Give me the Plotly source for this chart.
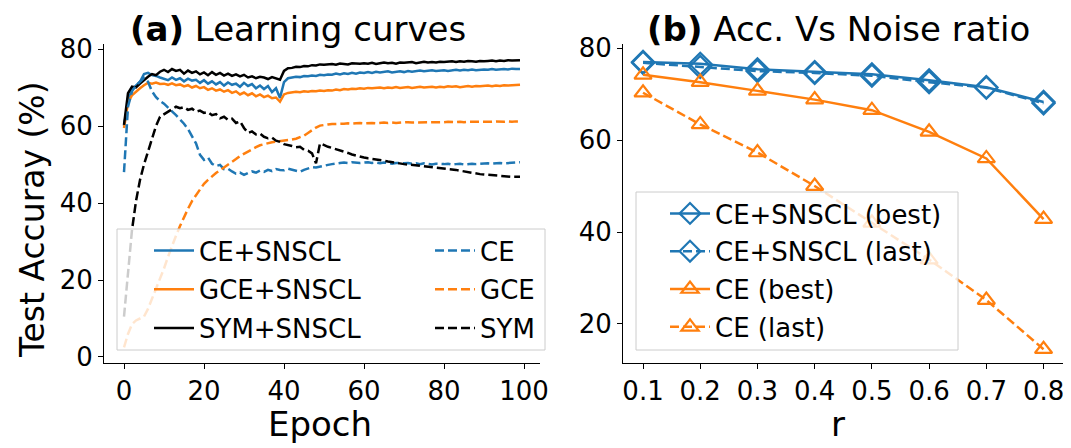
import plotly.graph_objects as go

epochs = list(range(100))

sym_snscl = [60.3, 68.5, 70.2, 70.0, 71.0, 72.0, 72.8, 73.5, 73.2, 74.1,
             74.6, 74.0, 74.8, 74.3, 74.6, 73.6, 74.4, 73.8, 74.2, 73.4,
             73.9, 73.2, 74.0, 73.3, 73.8, 73.1, 73.6, 73.0, 73.4, 72.9,
             73.3, 72.6, 72.9, 72.4, 72.8, 72.6, 72.2, 72.7, 72.3, 72.0,
             74.3, 75.0, 75.1, 75.4, 75.3, 75.6, 75.5, 75.8, 75.7, 76.0,
             75.9, 76.0, 76.1, 75.9, 76.2, 76.1, 76.0, 76.3, 76.2, 76.2,
             76.3, 76.2, 76.4, 76.1, 76.3, 76.5, 76.3, 76.4, 76.2, 76.5,
             76.4, 76.5, 76.6, 76.3, 76.5, 76.7, 76.5, 76.6, 76.5, 76.7,
             76.6, 76.7, 76.8, 76.6, 76.8, 76.7, 76.9, 76.8, 76.7, 76.9,
             76.8, 76.9, 77.0, 76.8, 77.0, 76.9, 77.1, 77.0, 77.1, 77.1]

ce_snscl = [60.0, 66.5, 69.5, 70.5, 71.5, 73.5, 73.8, 73.2, 73.0, 72.6,
            72.3, 71.9, 72.6, 72.0, 72.4, 71.6, 72.3, 71.8, 72.0, 71.2,
            71.9, 71.0, 71.6, 70.8, 71.4, 70.5, 71.3, 70.7, 71.0, 70.2,
            71.2, 70.4, 70.9, 69.8, 70.5, 69.6, 70.4, 68.8, 69.8, 67.3,
            71.4, 72.4, 72.6, 72.8, 72.7, 73.0, 72.9, 73.1, 73.0, 73.3,
            73.2, 73.4, 73.3, 73.6, 73.4, 73.7, 73.5, 73.8, 73.6, 73.9,
            73.8, 74.0, 73.8, 74.1, 73.9, 74.0, 74.2, 73.9, 74.1, 74.2,
            74.0, 74.3, 74.1, 74.2, 74.4, 74.2, 74.3, 74.5, 74.3, 74.4,
            74.5, 74.3, 74.5, 74.6, 74.4, 74.6, 74.5, 74.7, 74.5, 74.6,
            74.7, 74.6, 74.8, 74.6, 74.7, 74.8, 74.7, 74.9, 74.8, 74.8]

gce_snscl = [59.5, 66.0, 68.0, 69.0, 69.8, 70.6, 71.2, 71.0, 71.3, 70.9,
             71.0, 70.7, 71.1, 70.6, 70.8, 70.3, 70.6, 70.0, 70.4, 69.8,
             70.1, 69.4, 69.8, 69.2, 69.5, 68.9, 69.3, 68.6, 69.0, 68.2,
             68.7, 68.0, 68.5, 67.7, 68.2, 67.5, 67.9, 67.2, 67.4, 66.3,
             68.2, 68.6, 68.7, 68.9, 68.8, 69.0, 68.9, 69.1, 69.0, 69.2,
             69.1, 69.3, 69.2, 69.5, 69.3, 69.6, 69.5, 69.7, 69.6, 69.8,
             69.7, 69.9, 69.8, 69.9, 70.0, 69.8, 70.0, 69.9, 70.1, 69.9,
             70.0, 70.1, 69.9, 70.1, 70.2, 70.0, 70.1, 70.2, 70.0, 70.2,
             70.1, 70.3, 70.2, 70.3, 70.1, 70.3, 70.4, 70.2, 70.4, 70.3,
             70.4, 70.5, 70.3, 70.5, 70.4, 70.6, 70.5, 70.6, 70.7, 70.7]

ce = [48.0, 65.0, 69.0, 70.5, 71.5, 72.5, 71.5, 69.0, 67.5, 66.5,
      65.8, 64.9, 63.8, 62.8, 61.8, 60.6, 59.2, 57.5, 55.5, 52.5,
      51.2, 51.8, 50.2, 49.6, 49.9, 48.8, 48.9, 48.2, 47.6, 47.9,
      47.3, 47.8, 48.2, 47.9, 48.4, 48.1, 48.6, 48.3, 48.8, 48.6,
      48.5, 48.9, 48.6, 48.4, 48.1, 48.6, 49.0, 49.3, 49.2, 49.5,
      49.6, 49.9, 50.1, 50.3, 50.4, 50.5, 50.4, 50.6, 50.5, 50.4,
      50.5, 50.6, 50.4, 50.5, 50.3, 50.5, 50.4, 50.2, 50.4, 50.3,
      50.3, 50.4, 50.2, 50.3, 50.1, 50.3, 50.2, 50.0, 50.2, 50.1,
      50.1, 50.2, 50.0, 50.1, 50.2, 50.0, 50.1, 50.2, 50.1, 50.2,
      50.2, 50.3, 50.2, 50.3, 50.4, 50.3, 50.4, 50.5, 50.5, 50.6]

gce = [2.5, 6.0, 8.5, 9.5, 10.0, 10.5, 12.5, 15.0, 18.0, 20.5,
       23.0, 26.0, 29.0, 31.5, 34.0, 36.5, 38.5, 40.5, 42.0, 43.5,
       45.0, 46.0, 47.0, 47.8, 48.5, 49.2, 49.8, 50.6, 51.4, 52.2,
       52.8, 53.5, 54.0, 54.5, 55.0, 55.3, 55.6, 55.8, 55.9, 56.0,
       56.2, 56.3, 56.5, 56.7, 57.0, 57.5, 58.2, 59.0, 59.6, 60.1,
       60.3, 60.4, 60.5, 60.5, 60.6, 60.6, 60.7, 60.6, 60.7, 60.8,
       60.7, 60.8, 60.8, 60.7, 60.8, 60.9, 60.8, 60.9, 60.8, 60.9,
       60.9, 61.0, 60.9, 60.9, 61.0, 60.9, 61.0, 61.0, 60.9, 61.0,
       61.0, 61.1, 61.0, 61.0, 61.1, 61.0, 61.1, 61.1, 61.0, 61.1,
       61.1, 61.0, 61.1, 61.2, 61.1, 61.1, 61.2, 61.1, 61.2, 61.2]

sym = [10.5, 22.0, 33.0, 40.5, 46.0, 50.0, 53.5, 57.0, 60.0, 62.4,
       63.0, 63.7, 64.2, 65.0, 64.6, 64.9, 64.2, 64.5, 63.7, 64.0,
       63.4, 63.6, 62.8, 63.1, 62.0, 62.4, 61.6, 61.9, 60.8, 61.2,
       59.5, 58.2, 58.6, 57.8, 58.0, 57.2, 56.8, 57.0, 56.2, 55.9,
       55.3, 55.1, 54.8, 54.5, 54.6, 53.8, 53.6, 52.9, 50.3, 55.5,
       55.0, 54.6, 54.3, 54.0, 53.6, 53.3, 53.0, 52.6, 52.3, 52.0,
       51.8, 51.6, 51.5, 51.3, 51.2, 51.0, 50.8, 50.6, 50.4, 50.2,
       50.1, 50.0, 49.9, 49.8, 49.6, 49.5, 49.4, 49.3, 49.2, 49.0,
       49.0, 48.8, 48.7, 48.6, 48.4, 48.2, 48.0, 47.8, 47.7, 47.5,
       47.4, 47.3, 47.2, 47.1, 47.0, 46.9, 46.9, 46.8, 46.8, 46.8]

noise_ratio = [0.1, 0.2, 0.3, 0.4, 0.5, 0.6, 0.7, 0.8]
noise_labels = ["0.1", "0.2", "0.3", "0.4", "0.5", "0.6", "0.7", "0.8"]
ce_snscl_best = [77.0, 76.6, 75.4, 74.8, 74.3, 73.0, 71.5, 68.3]
ce_snscl_last = [76.8, 75.9, 75.0, 74.6, 74.0, 72.6, 71.4, 68.0]
ce_best = [74.2, 72.6, 70.7, 68.8, 66.5, 61.8, 56.0, 42.8]
ce_last = [70.3, 63.4, 57.3, 50.0, 42.0, 34.0, 25.2, 14.5]

BLUE = "#1f77b4"
ORANGE = "#ff7f0e"
BLACK = "#000000"
OFF = 8                       # page body margin in the browser
W, H = 1071 - OFF, 448 - OFF  # figure size so that it fits the window
FONT = "DejaVu Sans"
DASH = "9px,4px"
LW = 2.5
LEG_FONT = 26

fig = go.Figure()

left_series = [
    ("CE+SNSCL", ce_snscl, BLUE, "solid", "legend"),
    ("GCE+SNSCL", gce_snscl, ORANGE, "solid", "legend"),
    ("SYM+SNSCL", sym_snscl, BLACK, "solid", "legend"),
    ("CE", ce, BLUE, DASH, "legend3"),
    ("GCE", gce, ORANGE, DASH, "legend3"),
    ("SYM", sym, BLACK, DASH, "legend3"),
]
for name, vals, col, dash, leg in left_series:
    fig.add_trace(go.Scatter(x=epochs, y=vals, name=name, mode="lines", legendgroup=name,
                             line=dict(color=col, width=LW, dash=dash),
                             xaxis="x", yaxis="y", legend=leg))

right_series = [
    ("CE+SNSCL (best)", ce_snscl_best, BLUE, "solid", "diamond-open", 17),
    ("CE+SNSCL (last)", ce_snscl_last, BLUE, DASH, "diamond-open", 17),
    ("CE (best)", ce_best, ORANGE, "solid", "triangle-up-open", 15),
    ("CE (last)", ce_last, ORANGE, DASH, "triangle-up-open", 15),
]
for name, vals, col, dash, sym_, msize in right_series:
    fig.add_trace(go.Scatter(x=noise_ratio, y=vals, name=name, mode="lines+markers",
                             legendgroup=name,
                             line=dict(color=col, width=LW, dash=dash),
                             marker=dict(symbol=sym_, size=msize, color=col,
                                         line=dict(color=col, width=2.2)),
                             xaxis="x2", yaxis="y2", legend="legend2"))

def px_x(p):
    return (p - OFF) / W

def px_y(p):
    return (H - (p - OFF)) / H

ydom = [px_y(363), px_y(44)]
axis_common = dict(showgrid=False, zeroline=False, showline=True, linecolor="black",
                   linewidth=1, ticks="outside", ticklen=5, tickwidth=1, tickcolor="black",
                   automargin=False,
                   tickfont=dict(family=FONT, size=26, color="black"))

leg_common = dict(xanchor="left", yanchor="top", orientation="v",
                  bgcolor="rgba(0,0,0,0)", borderwidth=0,
                  font=dict(family=FONT, size=LEG_FONT, color="black"),
                  itemwidth=40)

def text_ann(text, x, y, size, angle=0, yanchor="middle"):
    return dict(text=text, x=px_x(x), y=px_y(y), xref="paper", yref="paper",
                xanchor="center", yanchor=yanchor, showarrow=False, textangle=angle,
                borderpad=0, font=dict(family=FONT, size=size, color="black"))

fig.update_layout(
    width=W, height=H,
    margin=dict(l=0, r=0, t=0, b=0, autoexpand=False),
    paper_bgcolor="white", plot_bgcolor="white",
    font=dict(family=FONT, color="black"),
    showlegend=True,
    xaxis=dict(domain=[px_x(104), px_x(540)], range=[-5, 104], tickvals=[0, 20, 40, 60, 80, 100],
               anchor="y", **axis_common),
    yaxis=dict(domain=ydom, range=[-1.56, 81.3], tickvals=[0, 20, 40, 60, 80], anchor="x",
               **axis_common),
    xaxis2=dict(domain=[px_x(623), px_x(1063)], range=[0.065, 0.834],
                tickvals=noise_ratio, ticktext=noise_labels, anchor="y2", **axis_common),
    yaxis2=dict(domain=ydom, range=[11.5, 80.9], tickvals=[20, 40, 60, 80], anchor="x2",
                **axis_common),
    legend=dict(x=px_x(149), y=px_y(227), tracegroupgap=2, **leg_common),
    legend3=dict(x=px_x(430), y=px_y(227), tracegroupgap=2, **leg_common),
    legend2=dict(x=px_x(665), y=px_y(190), tracegroupgap=1, **leg_common),
    shapes=[
        dict(type="rect", xref="paper", yref="paper", layer="above",
             x0=px_x(117), x1=px_x(545), y0=px_y(350), y1=px_y(229),
             fillcolor="rgba(255,255,255,0.8)", line=dict(color="#cccccc", width=1)),
        dict(type="rect", xref="paper", yref="paper", layer="above",
             x0=px_x(636), x1=px_x(958), y0=px_y(350), y1=px_y(192),
             fillcolor="rgba(255,255,255,0.8)", line=dict(color="#cccccc", width=1)),
    ],
    annotations=[
        text_ann("<b>(a)</b> Learning curves", 298, OFF, 34, yanchor="top"),
        text_ann("<b>(b)</b> Acc. Vs Noise ratio", 838, OFF, 34, yanchor="top"),
        text_ann("Epoch", 320, 424, 34),
        text_ann("r", 838, 424, 34),
        text_ann("Test Accuray (%)", 32, 220, 33, angle=-90),
    ],
)

fig.write_html("out.html")
